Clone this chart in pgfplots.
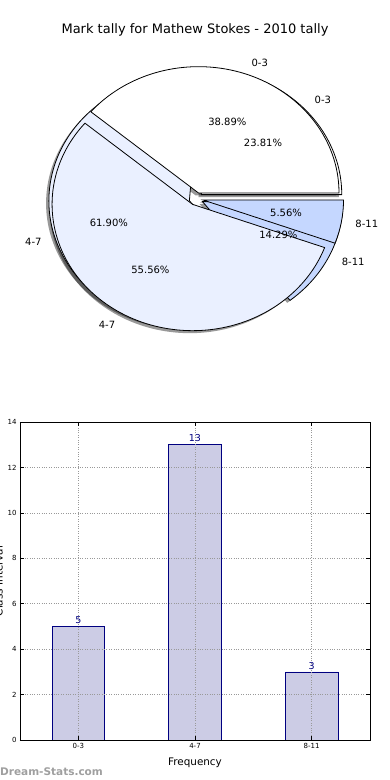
\documentclass[border=0pt]{standalone}
\usepackage{fontspec}
\setmainfont{DejaVu Sans}
\usepackage{pgfplots}
\pgfplotsset{compat=1.18}
\usetikzlibrary{calc}
\definecolor{wA}{HTML}{FFFFFF}
\definecolor{wB}{HTML}{EAF0FF}
\definecolor{wC}{HTML}{C5D7FF}
\definecolor{barfill}{HTML}{CCCCE5}
\definecolor{navy}{HTML}{000080}

% pie geometry (pixel units of the reference)
\newcommand{\pcen}{axis cs:196.1,198.9}
\newcommand{\pieS}[2]{%
  \fill[black, opacity=0.4] ($(\pcen)+({(#1+#2)/2}:7.025pt and 6.315pt)+(-2.8pt,-2.5pt)$) -- ++(#1:140.5pt and 126.3pt) arc[start angle=#1, end angle=#2, x radius=140.5pt, y radius=126.3pt] -- cycle;}
\newcommand{\pieW}[3]{%
  \filldraw[fill=#3, draw=black, line width=0.8pt, line join=miter] ($(\pcen)+({(#1+#2)/2}:7.025pt and 6.315pt)$) -- ++(#1:140.5pt and 126.3pt) arc[start angle=#1, end angle=#2, x radius=140.5pt, y radius=126.3pt] -- cycle;}
\newcommand{\pieL}[5]{%
  \node[font=\fontsize{10}{12}\selectfont, inner sep=0] at ($(\pcen)+({(#1+#2)/2}:91.325pt and 82.095pt)$) {#3};
  \node[font=\fontsize{10}{12}\selectfont, anchor=#5, inner sep=0] at ($(\pcen)+({(#1+#2)/2}:161.575pt and 145.245pt)$) {#4};}

\begin{document}
\begin{tikzpicture}[x=1pt,y=1pt]
\useasboundingbox (0,0) rectangle (390,780);

\node[font=\fontsize{13}{15}\selectfont] at (195,750) {Mark tally for Mathew Stokes - 2010 tally};

\begin{axis}[name=bars, at={(20pt,40pt)}, anchor=south west, scale only axis, width=350pt, height=318pt,
  xmin=-0.5, xmax=2.5, ymin=0, ymax=14, ytick={0,2,...,14}, xtick={0,1,2},
  xticklabels={0-3,4-7,8-11}, ybar, bar width=0.45,
  grid=major, grid style={dotted, gray!80, line width=0.6pt},
  tick align=inside, tick style={black, line width=0.5pt}, major tick length=4pt,
  ticklabel style={font=\fontsize{7}{8}\selectfont},
  xlabel={Frequency}, xlabel style={font=\fontsize{10.4}{12}\selectfont, yshift=-2pt},
  axis line style={line width=0.8pt},
  nodes near coords, nodes near coords style={text=navy, font=\fontsize{9.5}{11}\selectfont, yshift=-1pt},
  axis on top, /pgf/number format/assume math mode=true]
  \addplot[fill=barfill, draw=navy, line width=0.7pt] coordinates {(0,5) (1,13) (2,3)};
\end{axis}

\begin{axis}[at={(0pt,0pt)}, anchor=south west, scale only axis, width=390pt, height=780pt,
  xmin=0, xmax=390, ymin=0, ymax=780, y dir=reverse, hide axis, clip=false]
  % shadows
  \pieS{0}{85.714}
  \pieS{85.714}{308.571}
  \pieS{308.571}{360}
  \pieS{0}{140}
  \pieS{140}{340}
  \pieS{340}{360}
  % pie 2 (behind): counts 5, 13, 3
  \pieW{0}{85.714}{wA}
  \pieW{85.714}{308.571}{wB}
  \pieW{308.571}{360}{wC}
  % pie 1 (front): counts 7, 10, 1
  \pieW{0}{140}{wA}
  \pieW{140}{340}{wB}
  \pieW{340}{360}{wC}
  % labels
  \pieL{0}{85.714}{23.81\%}{0-3}{west}
  \pieL{85.714}{308.571}{61.90\%}{4-7}{east}
  \pieL{308.571}{360}{14.29\%}{8-11}{west}
  \pieL{0}{140}{38.89\%}{0-3}{west}
  \pieL{140}{340}{55.56\%}{4-7}{east}
  \pieL{340}{360}{5.56\%}{8-11}{west}
\end{axis}

\node[rotate=90, anchor=base, font=\fontsize{10.4}{12}\selectfont] at (2.5,199) {Class Interval};
\node[anchor=base west, text=gray!75, font=\bfseries\fontsize{10.5}{12}\selectfont, inner sep=0] at (0,5) {Dream-Stats.com};
\end{tikzpicture}
\end{document}
